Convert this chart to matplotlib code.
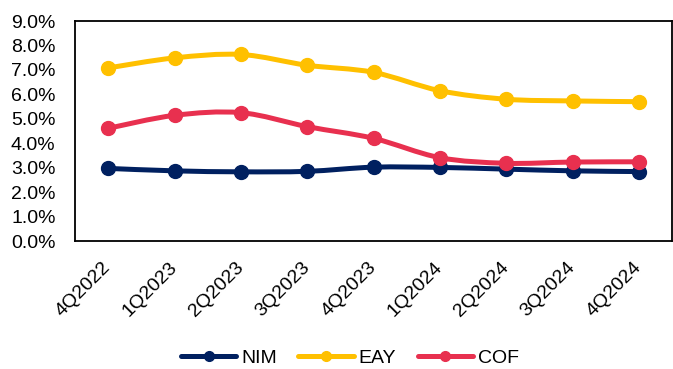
import matplotlib
matplotlib.use("Agg")
import matplotlib.pyplot as plt
import numpy as np
from matplotlib.path import Path
from matplotlib.patches import PathPatch
from matplotlib.lines import Line2D
from matplotlib.ticker import PercentFormatter

plt.rcParams['font.family'] = ['Liberation Sans', 'DejaVu Sans']

quarters = ["4Q2022", "1Q2023", "2Q2023", "3Q2023", "4Q2023",
            "1Q2024", "2Q2024", "3Q2024", "4Q2024"]
nim = [2.97, 2.87, 2.83, 2.85, 3.02, 3.01, 2.94, 2.87, 2.84]
eay = [7.08, 7.49, 7.63, 7.19, 6.90, 6.15, 5.80, 5.73, 5.70]
cof = [4.61, 5.14, 5.25, 4.68, 4.20, 3.41, 3.18, 3.23, 3.24]

series = [("NIM", nim, "#002060"), ("EAY", eay, "#FFC000"), ("COF", cof, "#E8304F")]


def smooth_path(xs, ys, tension=1 / 6):
    """Catmull-Rom style cubic Bezier through the points (smoothed line)."""
    xs = np.asarray(xs, float)
    ys = np.asarray(ys, float)
    n = len(xs)
    verts = [(xs[0], ys[0])]
    codes = [Path.MOVETO]
    for i in range(n - 1):
        p0 = (xs[max(i - 1, 0)], ys[max(i - 1, 0)])
        p1 = (xs[i], ys[i])
        p2 = (xs[i + 1], ys[i + 1])
        p3 = (xs[min(i + 2, n - 1)], ys[min(i + 2, n - 1)])
        c1 = (p1[0] + (p2[0] - p0[0]) * tension, p1[1] + (p2[1] - p0[1]) * tension)
        c2 = (p2[0] - (p3[0] - p1[0]) * tension, p2[1] - (p3[1] - p1[1]) * tension)
        verts += [c1, c2, p2]
        codes += [Path.CURVE4] * 3
    return Path(verts, codes)


fig = plt.figure(figsize=(6.73, 3.69), dpi=100)
ax = fig.add_axes([75 / 673, 1 - 241 / 369, (672 - 75) / 673, (241 - 21) / 369])

x = np.arange(len(quarters))
lw = 3.6
for name, vals, color in series:
    ax.add_patch(PathPatch(smooth_path(x, vals), facecolor="none",
                           edgecolor=color, lw=lw, capstyle="round", zorder=2))
    ax.plot(x, vals, linestyle="none", marker="o", markersize=10,
            color=color, zorder=3)

ax.set_xlim(-0.5, len(quarters) - 0.5)
ax.set_ylim(0, 9)
ax.set_yticks(np.arange(0, 9.01, 1.0))
ax.yaxis.set_major_formatter(PercentFormatter(decimals=1))
ax.set_xticks(x)
ax.set_xticklabels(quarters, rotation=45, ha="right", va="center",
                   rotation_mode="anchor")
ax.tick_params(axis="both", length=0, labelsize=14)
ax.tick_params(axis="x", pad=17)
ax.tick_params(axis="y", pad=14)
for sp in ax.spines.values():
    sp.set_linewidth(1.3)
    sp.set_color("black")

handles = [Line2D([0], [0], color=c, lw=lw, marker="o", markersize=7,
                  solid_capstyle="round") for _, _, c in series]
fig.legend(handles, [n for n, _, _ in series], loc="center",
           bbox_to_anchor=(350 / 673, 1 - 358 / 369), ncol=3, frameon=False,
           fontsize=14, handlelength=2.85, handletextpad=0.25,
           columnspacing=1.1, borderaxespad=0, borderpad=0)

fig.savefig("out.png", dpi=100)
